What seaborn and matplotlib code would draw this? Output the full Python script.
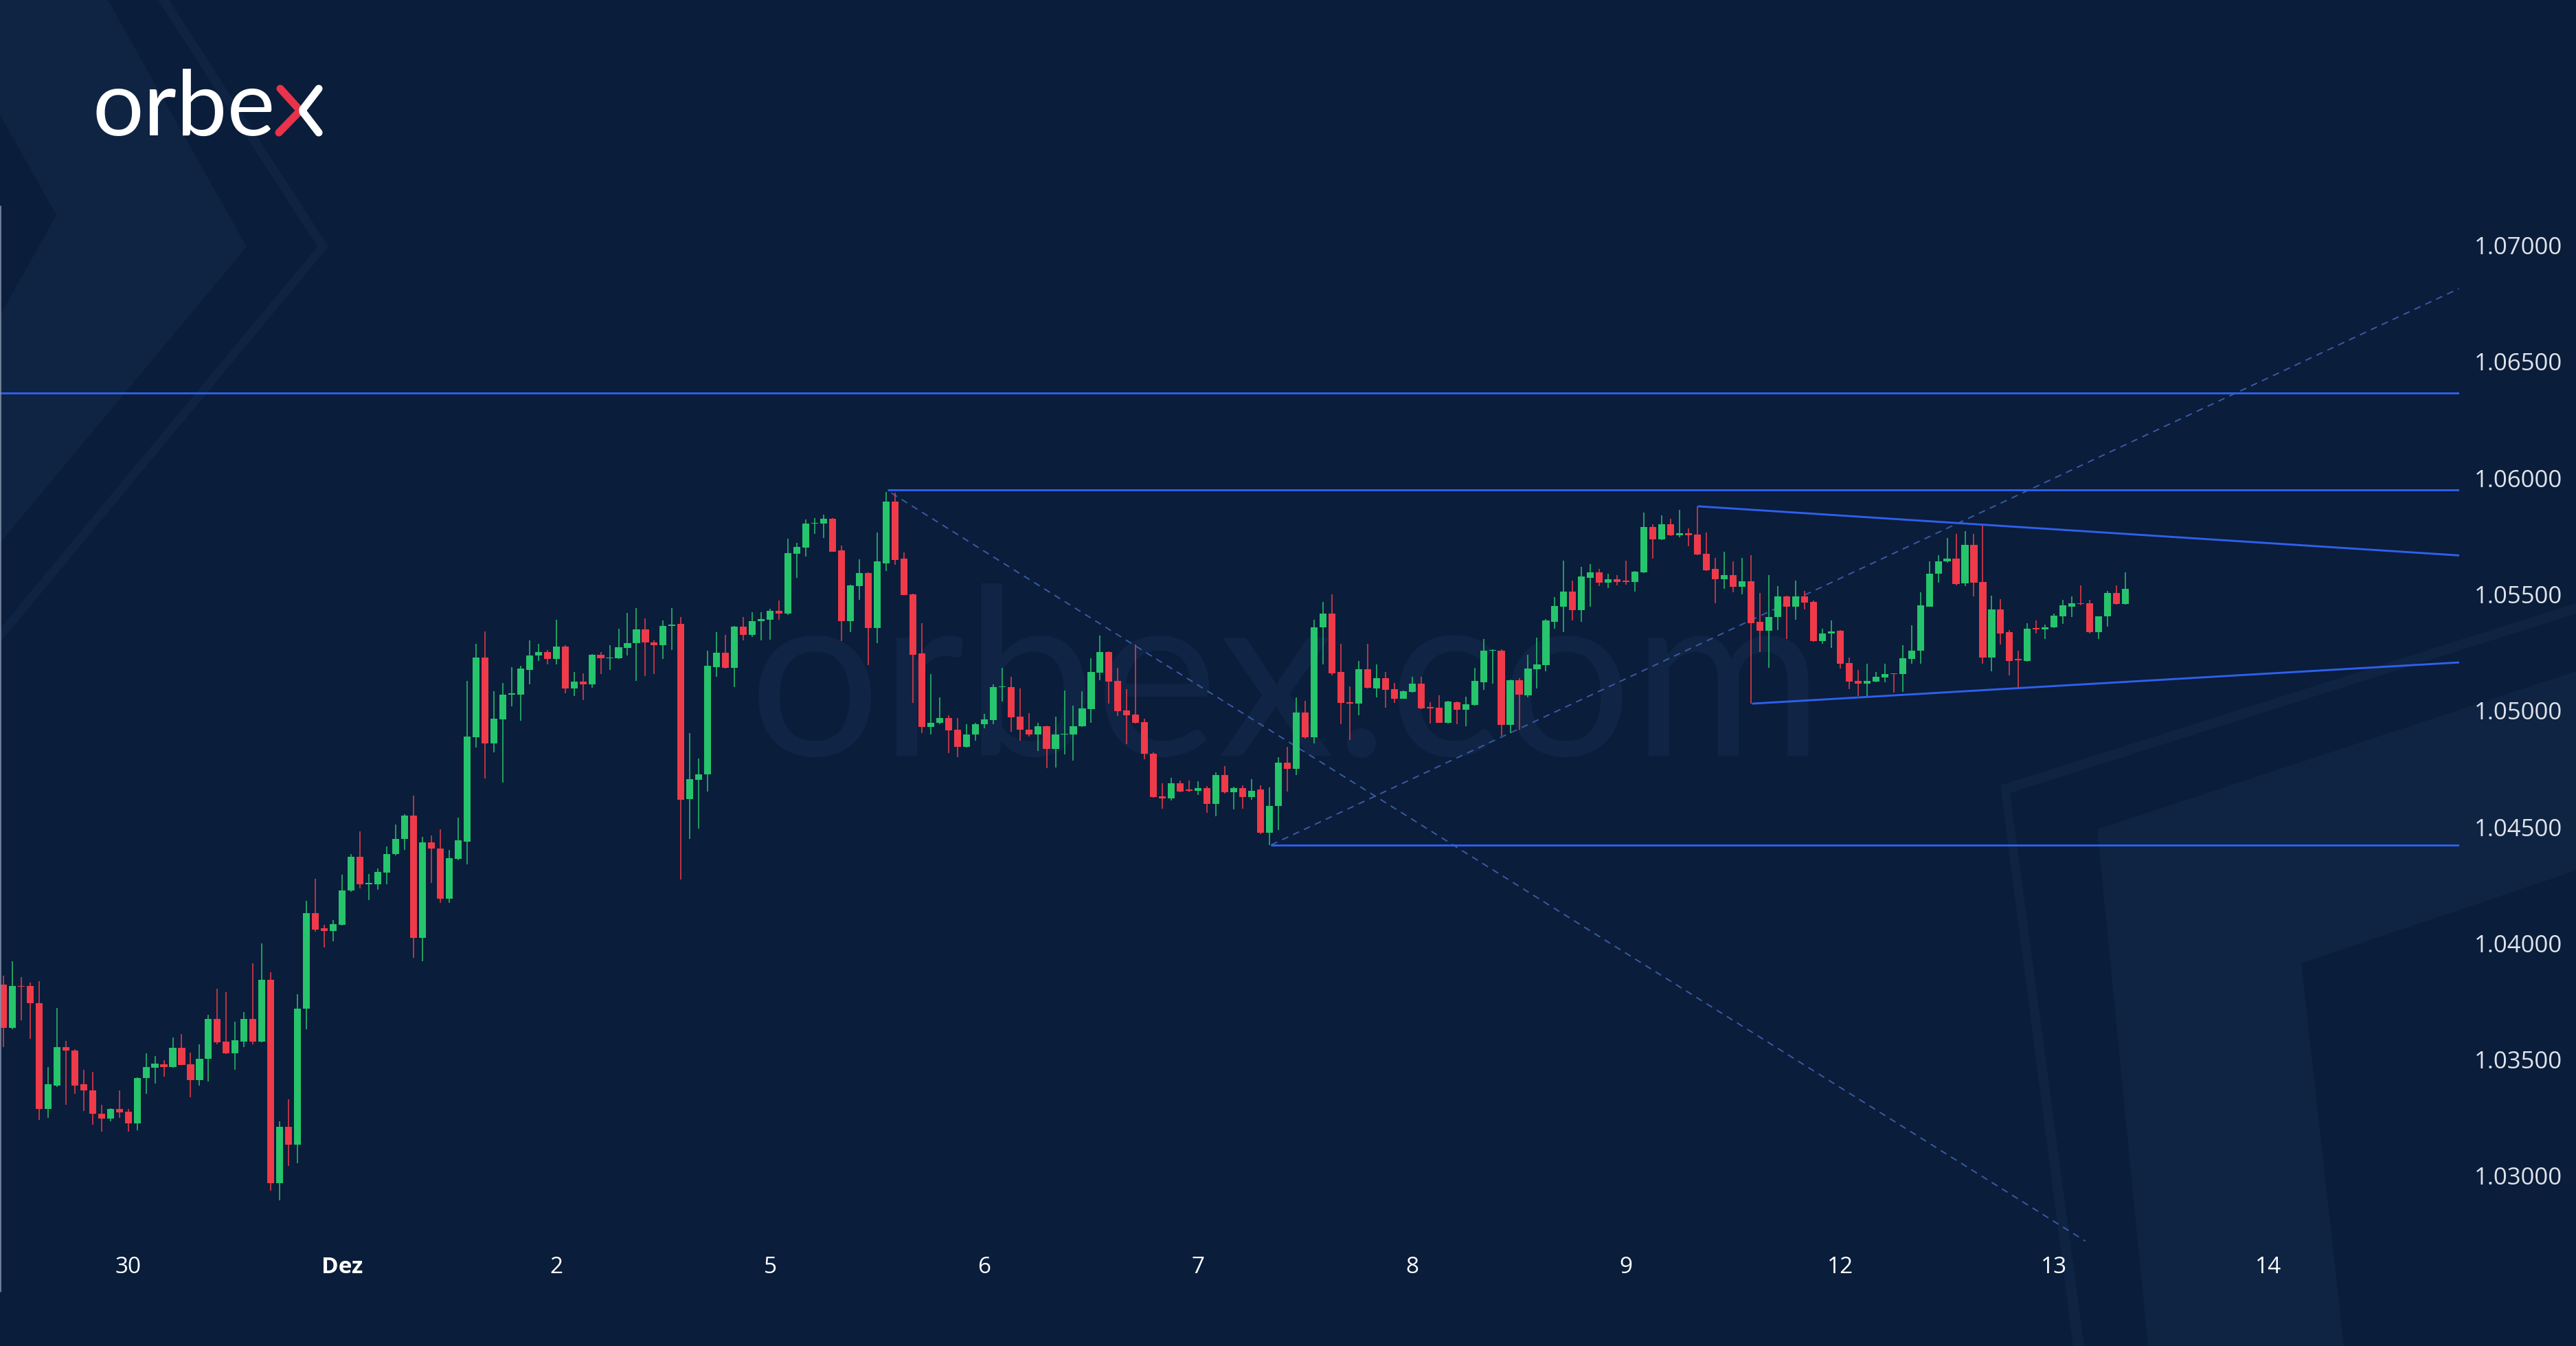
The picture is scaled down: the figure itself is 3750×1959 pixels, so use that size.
import numpy as np
import matplotlib
matplotlib.use('Agg')
import matplotlib.pyplot as plt
from matplotlib.patches import Polygon
from matplotlib.lines import Line2D
import seaborn as sns

# hourly candles, bar 0 = 30 Nov 00:00 (24 bars per trading day)
first_bar = -14

opens = [1.03821, 1.03637, 1.03816, 1.03816, 1.03744, 1.03289, 1.03388, 1.03555, 1.03540, 1.03393,
         1.03368, 1.03268, 1.03245, 1.03287, 1.03275, 1.03225, 1.03422, 1.03466, 1.03481, 1.03469,
         1.03550, 1.03481, 1.03412, 1.03504, 1.03676, 1.03578, 1.03528, 1.03578, 1.03676, 1.03578,
         1.03843, 1.02969, 1.03211, 1.03135, 1.03718, 1.04130, 1.04064, 1.04053, 1.04079, 1.04226,
         1.04373, 1.04254, 1.04252, 1.04305, 1.04384, 1.04449, 1.04550, 1.04022, 1.04433, 1.04407,
         1.04192, 1.04362, 1.04437, 1.04885, 1.05227, 1.04859, 1.04961, 1.05069, 1.05069, 1.05176,
         1.05236, 1.05252, 1.05221, 1.05276, 1.05094, 1.05125, 1.05112, 1.05241, 1.05225, 1.05225,
         1.05270, 1.05289, 1.05349, 1.05293, 1.05281, 1.05365, 1.05372, 1.04619, 1.04701, 1.04727,
         1.05188, 1.05249, 1.05183, 1.05360, 1.05324, 1.05384, 1.05390, 1.05430, 1.05417, 1.05673,
         1.05700, 1.05803, 1.05803, 1.05825, 1.05689, 1.05384, 1.05535, 1.05592, 1.05355, 1.05634,
         1.05898, 1.05654, 1.05500, 1.05245, 1.04929, 1.04948, 1.04968, 1.04919, 1.04843, 1.04896,
         1.04942, 1.04958, 1.05100, 1.05100, 1.04975, 1.04919, 1.04897, 1.04932, 1.04835, 1.04896,
         1.04896, 1.04932, 1.05008, 1.05162, 1.05251, 1.05129, 1.05001, 1.04983, 1.04951, 1.04816,
         1.04630, 1.04624, 1.04688, 1.04658, 1.04656, 1.04668, 1.04599, 1.04722, 1.04648, 1.04668,
         1.04628, 1.04660, 1.04476, 1.04589, 1.04776, 1.04749, 1.04993, 1.04884, 1.05357, 1.05418,
         1.05165, 1.05037, 1.05030, 1.05178, 1.05096, 1.05138, 1.05093, 1.05052, 1.05081, 1.05116,
         1.05012, 1.05012, 1.04948, 1.05037, 1.05003, 1.05024, 1.05123, 1.05257, 1.05259, 1.04939,
         1.05131, 1.05067, 1.05178, 1.05197, 1.05382, 1.05446, 1.05513, 1.05431, 1.05572, 1.05593,
         1.05549, 1.05566, 1.05559, 1.05552, 1.05593, 1.05788, 1.05736, 1.05802, 1.05753, 1.05763,
         1.05756, 1.05674, 1.05608, 1.05564, 1.05581, 1.05532, 1.05557, 1.05382, 1.05342, 1.05401,
         1.05490, 1.05448, 1.05490, 1.05467, 1.05298, 1.05330, 1.05342, 1.05204, 1.05128, 1.05116,
         1.05126, 1.05143, 1.05158, 1.05158, 1.05221, 1.05257, 1.05446, 1.05588, 1.05642, 1.05652,
         1.05546, 1.05711, 1.05554, 1.05229, 1.05436, 1.05337, 1.05219, 1.05214, 1.05352, 1.05349,
         1.05357, 1.05404, 1.05448, 1.05460, 1.05460, 1.05337, 1.05404, 1.05507, 1.05458]
highs = [1.03860, 1.03924, 1.03855, 1.03831, 1.03836, 1.03467, 1.03723, 1.03580, 1.03545, 1.03457,
         1.03447, 1.03304, 1.03292, 1.03368, 1.03289, 1.03425, 1.03526, 1.03516, 1.03496, 1.03594,
         1.03609, 1.03530, 1.03565, 1.03693, 1.03806, 1.03791, 1.03663, 1.03703, 1.03914, 1.03998,
         1.03875, 1.03235, 1.03329, 1.03782, 1.04183, 1.04277, 1.04079, 1.04101, 1.04294, 1.04384,
         1.04480, 1.04299, 1.04322, 1.04415, 1.04509, 1.04554, 1.04633, 1.04458, 1.04463, 1.04489,
         1.04401, 1.04539, 1.05128, 1.05286, 1.05340, 1.05082, 1.05120, 1.05188, 1.05193, 1.05301,
         1.05286, 1.05261, 1.05391, 1.05280, 1.05165, 1.05161, 1.05244, 1.05252, 1.05281, 1.05352,
         1.05419, 1.05442, 1.05397, 1.05301, 1.05388, 1.05442, 1.05403, 1.04902, 1.04793, 1.05258,
         1.05337, 1.05324, 1.05363, 1.05403, 1.05423, 1.05423, 1.05439, 1.05473, 1.05740, 1.05720,
         1.05821, 1.05829, 1.05842, 1.05828, 1.05710, 1.05542, 1.05650, 1.05595, 1.05766, 1.05940,
         1.05937, 1.05680, 1.05503, 1.05377, 1.05157, 1.05057, 1.04981, 1.04968, 1.04942, 1.04948,
         1.04985, 1.05113, 1.05183, 1.05145, 1.05096, 1.04988, 1.04948, 1.04935, 1.04973, 1.05086,
         1.05022, 1.05083, 1.05224, 1.05322, 1.05254, 1.05185, 1.05091, 1.05283, 1.04965, 1.04819,
         1.04688, 1.04712, 1.04700, 1.04700, 1.04696, 1.04676, 1.04735, 1.04761, 1.04673, 1.04678,
         1.04705, 1.04678, 1.04670, 1.04801, 1.04843, 1.05057, 1.05042, 1.05391, 1.05467, 1.05500,
         1.05286, 1.05103, 1.05214, 1.05286, 1.05199, 1.05165, 1.05119, 1.05086, 1.05145, 1.05145,
         1.05037, 1.05067, 1.05043, 1.05040, 1.05060, 1.05185, 1.05308, 1.05264, 1.05262, 1.05134,
         1.05140, 1.05239, 1.05313, 1.05394, 1.05487, 1.05644, 1.05559, 1.05618, 1.05631, 1.05608,
         1.05588, 1.05581, 1.05644, 1.05601, 1.05851, 1.05802, 1.05839, 1.05825, 1.05864, 1.05782,
         1.05878, 1.05766, 1.05657, 1.05684, 1.05642, 1.05657, 1.05667, 1.05505, 1.05583, 1.05534,
         1.05493, 1.05559, 1.05514, 1.05473, 1.05352, 1.05387, 1.05345, 1.05229, 1.05175, 1.05200,
         1.05165, 1.05200, 1.05161, 1.05280, 1.05367, 1.05510, 1.05642, 1.05667, 1.05741, 1.05759,
         1.05770, 1.05761, 1.05797, 1.05495, 1.05480, 1.05347, 1.05258, 1.05377, 1.05387, 1.05369,
         1.05418, 1.05475, 1.05490, 1.05539, 1.05475, 1.05406, 1.05514, 1.05539, 1.05595]
lows = [1.03555, 1.03629, 1.03668, 1.03590, 1.03240, 1.03250, 1.03383, 1.03304, 1.03353, 1.03280,
        1.03220, 1.03191, 1.03235, 1.03250, 1.03191, 1.03196, 1.03353, 1.03398, 1.03427, 1.03466,
        1.03476, 1.03338, 1.03388, 1.03407, 1.03565, 1.03525, 1.03457, 1.03555, 1.03565, 1.03575,
        1.02935, 1.02896, 1.03043, 1.03053, 1.03629, 1.04050, 1.03982, 1.04007, 1.04076, 1.04220,
        1.04237, 1.04186, 1.04231, 1.04254, 1.04378, 1.04401, 1.03937, 1.03924, 1.04260, 1.04175,
        1.04175, 1.04356, 1.04339, 1.04842, 1.04707, 1.04820, 1.04690, 1.05018, 1.04955, 1.05114,
        1.05214, 1.05199, 1.05199, 1.05074, 1.05063, 1.05046, 1.05097, 1.05157, 1.05176, 1.05222,
        1.05238, 1.05127, 1.05148, 1.05157, 1.05221, 1.05261, 1.04274, 1.04447, 1.04494, 1.04652,
        1.05144, 1.05180, 1.05100, 1.05302, 1.05318, 1.05302, 1.05304, 1.05390, 1.05412, 1.05571,
        1.05663, 1.05759, 1.05742, 1.05684, 1.05298, 1.05337, 1.05476, 1.05196, 1.05289, 1.05601,
        1.05627, 1.05496, 1.05034, 1.04902, 1.04896, 1.04942, 1.04817, 1.04801, 1.04840, 1.04870,
        1.04925, 1.04942, 1.05038, 1.04909, 1.04870, 1.04889, 1.04825, 1.04752, 1.04756, 1.04811,
        1.04786, 1.04929, 1.04946, 1.05131, 1.05030, 1.04978, 1.04855, 1.04945, 1.04791, 1.04627,
        1.04579, 1.04614, 1.04650, 1.04648, 1.04638, 1.04560, 1.04545, 1.04643, 1.04574, 1.04577,
        1.04617, 1.04469, 1.04423, 1.04486, 1.04653, 1.04722, 1.04881, 1.04860, 1.05199, 1.05152,
        1.04943, 1.04875, 1.04981, 1.05096, 1.05057, 1.05012, 1.05034, 1.05050, 1.05078, 1.05008,
        1.04944, 1.04946, 1.04944, 1.04941, 1.04934, 1.05021, 1.05089, 1.05116, 1.04892, 1.04904,
        1.04919, 1.05057, 1.05096, 1.05170, 1.05352, 1.05337, 1.05388, 1.05382, 1.05448, 1.05536,
        1.05526, 1.05539, 1.05542, 1.05513, 1.05590, 1.05652, 1.05733, 1.05750, 1.05746, 1.05706,
        1.05668, 1.05600, 1.05460, 1.05524, 1.05510, 1.05500, 1.05030, 1.05251, 1.05185, 1.05347,
        1.05308, 1.05391, 1.05436, 1.05295, 1.05288, 1.05268, 1.05180, 1.05091, 1.05062, 1.05062,
        1.05121, 1.05121, 1.05077, 1.05081, 1.05200, 1.05200, 1.05446, 1.05549, 1.05637, 1.05538,
        1.05534, 1.05490, 1.05200, 1.05170, 1.05283, 1.05150, 1.05101, 1.05209, 1.05332, 1.05308,
        1.05355, 1.05372, 1.05401, 1.05451, 1.05332, 1.05308, 1.05362, 1.05456, 1.05456]
closes = [1.03637, 1.03816, 1.03812, 1.03742, 1.03289, 1.03393, 1.03555, 1.03538, 1.03388, 1.03366,
          1.03268, 1.03245, 1.03289, 1.03273, 1.03225, 1.03422, 1.03469, 1.03483, 1.03469, 1.03550,
          1.03478, 1.03412, 1.03504, 1.03676, 1.03575, 1.03528, 1.03582, 1.03676, 1.03578, 1.03843,
          1.02969, 1.03211, 1.03135, 1.03718, 1.04130, 1.04059, 1.04053, 1.04082, 1.04226, 1.04373,
          1.04252, 1.04256, 1.04308, 1.04384, 1.04449, 1.04550, 1.04022, 1.04433, 1.04407, 1.04192,
          1.04367, 1.04441, 1.04888, 1.05227, 1.04859, 1.04965, 1.05069, 1.05071, 1.05180, 1.05236,
          1.05252, 1.05221, 1.05276, 1.05094, 1.05125, 1.05112, 1.05241, 1.05225, 1.05227, 1.05272,
          1.05289, 1.05349, 1.05293, 1.05281, 1.05365, 1.05369, 1.04616, 1.04705, 1.04727, 1.05192,
          1.05249, 1.05183, 1.05360, 1.05324, 1.05386, 1.05393, 1.05430, 1.05417, 1.05676, 1.05703,
          1.05803, 1.05805, 1.05825, 1.05684, 1.05384, 1.05539, 1.05592, 1.05355, 1.05641, 1.05898,
          1.05647, 1.05496, 1.05241, 1.04929, 1.04948, 1.04968, 1.04915, 1.04843, 1.04896, 1.04942,
          1.04962, 1.05100, 1.05102, 1.04971, 1.04917, 1.04897, 1.04932, 1.04835, 1.04896, 1.04898,
          1.04932, 1.05010, 1.05165, 1.05251, 1.05126, 1.04998, 1.04981, 1.04948, 1.04814, 1.04629,
          1.04624, 1.04688, 1.04653, 1.04656, 1.04666, 1.04599, 1.04722, 1.04648, 1.04666, 1.04628,
          1.04656, 1.04476, 1.04591, 1.04776, 1.04749, 1.04993, 1.04884, 1.05359, 1.05418, 1.05160,
          1.05034, 1.05030, 1.05178, 1.05099, 1.05138, 1.05089, 1.05052, 1.05083, 1.05116, 1.05010,
          1.05010, 1.04948, 1.05040, 1.05003, 1.05027, 1.05129, 1.05257, 1.05259, 1.04939, 1.05131,
          1.05070, 1.05182, 1.05199, 1.05387, 1.05450, 1.05513, 1.05431, 1.05576, 1.05593, 1.05549,
          1.05566, 1.05554, 1.05554, 1.05598, 1.05788, 1.05736, 1.05802, 1.05753, 1.05763, 1.05753,
          1.05670, 1.05603, 1.05564, 1.05581, 1.05532, 1.05557, 1.05377, 1.05342, 1.05401, 1.05490,
          1.05448, 1.05490, 1.05465, 1.05298, 1.05330, 1.05340, 1.05200, 1.05126, 1.05116, 1.05128,
          1.05145, 1.05158, 1.05156, 1.05224, 1.05258, 1.05451, 1.05588, 1.05642, 1.05652, 1.05544,
          1.05711, 1.05549, 1.05229, 1.05436, 1.05332, 1.05214, 1.05217, 1.05352, 1.05350, 1.05357,
          1.05408, 1.05453, 1.05460, 1.05458, 1.05337, 1.05406, 1.05507, 1.05458, 1.05522]

day_ticks = [0, 24, 48, 72, 96, 120, 144, 168, 192, 216, 240]
day_labels = ['30', 'Dez', '2', '5', '6', '7', '8', '9', '12', '13', '14']
price_ticks = [1.030, 1.035, 1.040, 1.045, 1.050, 1.055, 1.060, 1.065, 1.070]

# drawn levels: (bar, price) anchors
resistance = 1.06366
range_top = [85.2, 1.05949]
range_bottom = [128.2, 1.04423]
tri_upper_x, tri_upper_y = [176.1, 261.4], [1.05878, 1.05667]
tri_lower_x, tri_lower_y = [182.2, 261.4], [1.05030, 1.05207]
dash_down_x, dash_down_y = [85.6, 219.5], [1.05935, 1.02720]
dash_up_x, dash_up_y = [128.2, 261.4], [1.04423, 1.06814]

bg = '#0a1d3a'
shade = '#0f2443'
green = '#26c46c'
red = '#ef3a4a'
blue = '#2e60ec'
dash_blue = '#3a5aa6'

sns.set_theme(style='dark', rc={'axes.facecolor': 'none', 'figure.facecolor': bg,
                               'axes.grid': False})
plt.rcParams['font.family'] = ['Open Sans', 'DejaVu Sans']

W, H = 3750, 1959
fig = plt.figure(figsize=(W / 100, H / 100), dpi=100)
fig.patch.set_facecolor(bg)


def fpts(pts):
    return [(x / W, 1 - y / H) for x, y in pts]


# decorative background chevrons
shapes = [
    [(0, 0), (157, 0), (359, 359), (0, 790), (0, 459), (82, 313), (0, 167)],
    [(230, 0), (246, 0), (478, 359), (0, 935), (0, 915), (462, 359)],
    [(2912, 1143), (3750, 878), (3750, 893), (2926, 1154), (3034, 1959), (3018, 1959)],
    [(3053, 1207), (3750, 977), (3750, 1267), (3350, 1402), (3412, 1959), (3127, 1959)],
]
for s in shapes:
    fig.patches.append(Polygon(fpts(s), closed=True, transform=fig.transFigure,
                               facecolor=shade, edgecolor='none', zorder=-3))

# watermark
fig.text(1872 / W, 1 - 1100 / H, 'orbex.com', ha='center', va='baseline', fontsize=244,
         family=['Lato', 'DejaVu Sans'], color='#102545', zorder=-1)

# logo
fig.text(135 / W, 1 - 197 / H, 'orbe', ha='left', va='baseline', fontsize=95,
         family=['Lato', 'DejaVu Sans'], color='white', zorder=5)
for pts, c in [([(408, 129), (437, 161), (406, 193)], '#e8334a'),
               ([(464, 129), (441, 159), (441, 163), (464, 193)], 'white')]:
    p = fpts(pts)
    fig.lines.append(Line2D([q[0] for q in p], [q[1] for q in p], transform=fig.transFigure,
                            color=c, linewidth=8, solid_capstyle='round',
                            solid_joinstyle='round', zorder=5))

# pane left border
fig.lines.append(Line2D([1.2 / W, 1.2 / W], [1 - 300 / H, 1 - 1880 / H], transform=fig.transFigure,
                        color='#7f8fa8', linewidth=1.2, zorder=5))

ax = fig.add_axes([0, 149 / H, 3580 / W, 1510 / H])
ax.set_facecolor('none')

o = np.array(opens)
h = np.array(highs)
l = np.array(lows)
c = np.array(closes)
x = np.arange(first_bar, first_bar + len(o))
cols = np.where(c >= o, green, red)

ax.vlines(x, l, h, colors=cols, linewidth=1.1, zorder=3)
ax.bar(x, np.maximum(np.abs(c - o), 0.00004), bottom=np.minimum(o, c), width=0.78,
       color=cols, linewidth=0, zorder=4)

xl, xr = -14.376, 261.43
ax.plot([xl, xr], [resistance, resistance], color=blue, linewidth=2.1, zorder=5)
ax.plot([range_top[0], xr], [range_top[1], range_top[1]], color=blue, linewidth=2.1, zorder=5)
ax.plot([range_bottom[0], xr], [range_bottom[1], range_bottom[1]], color=blue, linewidth=2.1, zorder=5)
ax.plot(tri_upper_x, tri_upper_y, color=blue, linewidth=2.1, zorder=5)
ax.plot(tri_lower_x, tri_lower_y, color=blue, linewidth=2.1, zorder=5)
ax.plot(dash_down_x, dash_down_y, color=dash_blue, linewidth=1.4, dashes=(5, 4), zorder=2)
ax.plot(dash_up_x, dash_up_y, color=dash_blue, linewidth=1.4, dashes=(5, 4), zorder=2)

ax.set_xlim(xl, xr)
ax.set_ylim(1.027089, 1.071683)

ax.yaxis.tick_right()
ax.set_yticks(price_ticks)
ax.set_yticklabels([f'{p:.5f}' for p in price_ticks])
ax.tick_params(axis='y', length=0, pad=16, labelsize=25, labelcolor='#dfe3ea')
ax.set_xticks(day_ticks)
ax.set_xticklabels(day_labels)
ax.tick_params(axis='x', length=0, pad=13, labelsize=24, labelcolor='white')
for t in ax.get_xticklabels():
    if t.get_text() == 'Dez':
        t.set_fontweight('bold')
sns.despine(ax=ax, left=True, bottom=True, right=True, top=True)
ax.grid(False)

fig.savefig('out.png', dpi=100, facecolor=bg)
